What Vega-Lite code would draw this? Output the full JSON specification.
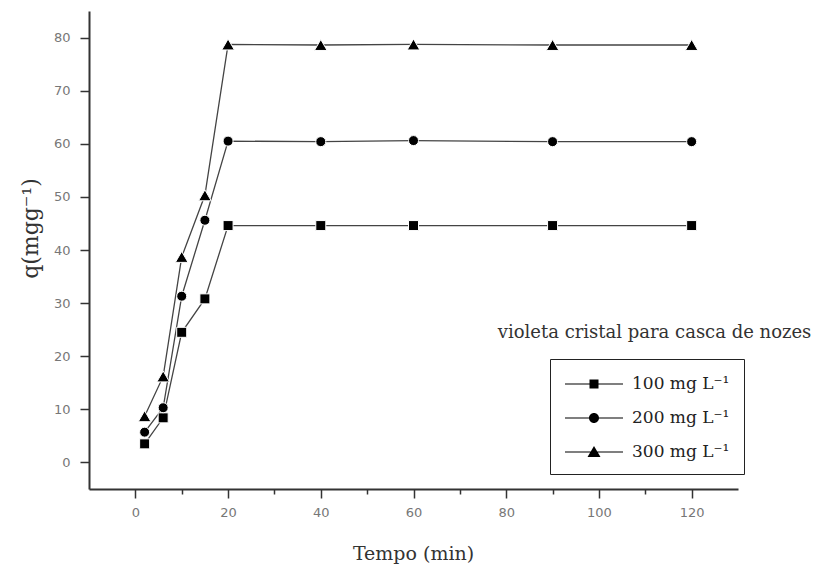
{
  "$schema": "https://vega.github.io/schema/vega-lite/v6.json",
  "autosize": {"type": "none"},
  "padding": {"left": 89, "top": 11, "right": 76, "bottom": 76},
  "width": 649,
  "height": 478,
  "background": "white",
  "config": {
    "view": {"stroke": null},
    "axis": {
      "grid": false,
      "domainColor": "#333",
      "domainWidth": 2,
      "tickColor": "#333",
      "tickWidth": 1.5,
      "labelColor": "#777",
      "labelFont": "DejaVu Sans",
      "labelFontSize": 13,
      "labelOverlap": false,
      "titleFont": "DejaVu Serif",
      "titleFontWeight": "normal",
      "titleColor": "#333"
    }
  },
  "datasets": {
    "kin": [
      {"series": "100 mg L⁻¹", "t": 2, "q": 3.5},
      {"series": "100 mg L⁻¹", "t": 6, "q": 8.4},
      {"series": "100 mg L⁻¹", "t": 10, "q": 24.5},
      {"series": "100 mg L⁻¹", "t": 15, "q": 30.8},
      {"series": "100 mg L⁻¹", "t": 20, "q": 44.6},
      {"series": "100 mg L⁻¹", "t": 40, "q": 44.6},
      {"series": "100 mg L⁻¹", "t": 60, "q": 44.6},
      {"series": "100 mg L⁻¹", "t": 90, "q": 44.6},
      {"series": "100 mg L⁻¹", "t": 120, "q": 44.6},
      {"series": "200 mg L⁻¹", "t": 2, "q": 5.7},
      {"series": "200 mg L⁻¹", "t": 6, "q": 10.3},
      {"series": "200 mg L⁻¹", "t": 10, "q": 31.3},
      {"series": "200 mg L⁻¹", "t": 15, "q": 45.6},
      {"series": "200 mg L⁻¹", "t": 20, "q": 60.5},
      {"series": "200 mg L⁻¹", "t": 40, "q": 60.4},
      {"series": "200 mg L⁻¹", "t": 60, "q": 60.6},
      {"series": "200 mg L⁻¹", "t": 90, "q": 60.4},
      {"series": "200 mg L⁻¹", "t": 120, "q": 60.4},
      {"series": "300 mg L⁻¹", "t": 2, "q": 8.7},
      {"series": "300 mg L⁻¹", "t": 6, "q": 16.2},
      {"series": "300 mg L⁻¹", "t": 10, "q": 38.7},
      {"series": "300 mg L⁻¹", "t": 15, "q": 50.3},
      {"series": "300 mg L⁻¹", "t": 20, "q": 78.7},
      {"series": "300 mg L⁻¹", "t": 40, "q": 78.6},
      {"series": "300 mg L⁻¹", "t": 60, "q": 78.7},
      {"series": "300 mg L⁻¹", "t": 90, "q": 78.6},
      {"series": "300 mg L⁻¹", "t": 120, "q": 78.6}
    ],
    "note": [
      {"label": "violeta cristal para casca de nozes", "t": 112, "q": 23.5}
    ]
  },
  "resolve": {"scale": {"shape": "independent"}, "legend": {"shape": "independent"}},
  "layer": [
    {
      "data": {"name": "kin"},
      "mark": {"type": "line", "color": "#444", "strokeWidth": 1.3, "clip": false},
      "encoding": {
        "x": {
          "field": "t", "type": "quantitative",
          "scale": {"domain": [-10, 130], "nice": false, "zero": false},
          "axis": {
            "title": "Tempo (min)",
            "values": [0, 10, 20, 30, 40, 50, 60, 70, 80, 90, 100, 110, 120],
            "labelExpr": "datum.value % 20 === 0 ? datum.label : ''",
            "tickSize": {"condition": {"test": "datum.value % 20 === 0", "value": 9}, "value": 5},
            "labelPadding": 8,
            "titleFontSize": 19,
            "titleY": 64,
            "titleX": 324,
            "titleBaseline": "middle"
          }
        },
        "y": {
          "field": "q", "type": "quantitative",
          "scale": {"domain": [-5, 85], "nice": false, "zero": false},
          "axis": {
            "title": "q(mgg⁻¹)",
            "values": [0, 5, 10, 15, 20, 25, 30, 35, 40, 45, 50, 55, 60, 65, 70, 75, 80],
            "labelExpr": "datum.value % 10 === 0 ? datum.label : ''",
            "tickSize": {"condition": {"test": "datum.value % 10 === 0", "value": 9}, "value": 5},
            "labelPadding": 10,
            "titleFontSize": 22,
            "titleX": -59,
            "titleY": 217,
            "titleAngle": -90,
            "titleAlign": "center",
            "titleBaseline": "middle"
          }
        },
        "detail": {"field": "series"}
      }
    },
    {
      "data": {"name": "kin"},
      "mark": {"type": "point", "filled": true, "color": "black", "size": 0, "clip": false},
      "encoding": {
        "x": {"field": "t", "type": "quantitative"},
        "y": {"field": "q", "type": "quantitative"},
        "shape": {
          "field": "series", "type": "nominal",
          "scale": {"range": [
            "M-1,-0.06L4.8,-0.06L4.8,0.06L-1,0.06ZM1.45,-0.45L2.35,-0.45L2.35,0.45L1.45,0.45Z",
            "M-1,-0.06L4.8,-0.06L4.8,0.06L-1,0.06ZM1.4,0A0.5,0.5 0 1,1 2.4,0A0.5,0.5 0 1,1 1.4,0Z",
            "M-1,-0.06L4.8,-0.06L4.8,0.06L-1,0.06ZM1.9,-0.6L2.55,0.5L1.25,0.5Z"
          ]},
          "legend": {
            "title": null,
            "orient": "none",
            "legendX": 461,
            "legendY": 348,
            "strokeColor": "#222",
            "padding": 14,
            "symbolSize": 400,
            "symbolFillColor": "black",
            "symbolStrokeColor": "black",
            "symbolStrokeWidth": 1.2,
            "symbolOpacity": 1,
            "labelFont": "DejaVu Serif",
            "labelFontSize": 17,
            "labelColor": "#222",
            "labelOffset": 46,
            "rowPadding": 15,
            "encode": {
              "legend": {"update": {"strokeWidth": {"value": 1.5}}}
            }
          }
        }
      }
    },
    {
      "data": {"name": "kin"},
      "mark": {"type": "point", "filled": true, "color": "black", "opacity": 1, "stroke": "white", "strokeWidth": 1, "clip": false},
      "encoding": {
        "x": {"field": "t", "type": "quantitative"},
        "y": {"field": "q", "type": "quantitative"},
        "shape": {
          "field": "series", "type": "nominal",
          "scale": {"range": ["square", "circle", "triangle-up"]},
          "legend": null
        },
        "size": {"condition": {"test": "datum.series === '300 mg L⁻¹'", "value": 160}, "value": 100}
      }
    },
    {
      "data": {"name": "note"},
      "mark": {"type": "text", "font": "DejaVu Serif", "fontSize": 18, "color": "#333", "align": "center", "baseline": "alphabetic", "clip": false},
      "encoding": {
        "x": {"field": "t", "type": "quantitative"},
        "y": {"field": "q", "type": "quantitative"},
        "text": {"field": "label"}
      }
    }
  ]
}
